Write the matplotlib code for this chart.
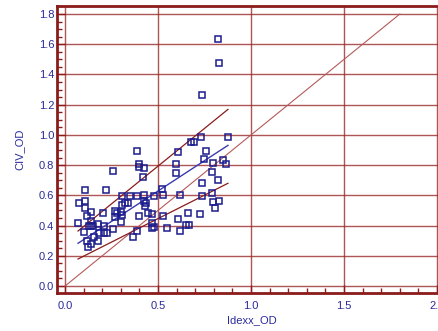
import matplotlib
matplotlib.use("Agg")
import matplotlib.pyplot as plt
import numpy as np
from matplotlib.ticker import MultipleLocator

# Idexx_OD vs CIV_OD
idexx = [0.070, 0.077, 0.101, 0.109, 0.109, 0.109, 0.117, 0.118, 0.125, 0.127,
         0.138, 0.138, 0.141, 0.141, 0.152, 0.158, 0.177, 0.176, 0.181, 0.206,
         0.208, 0.219, 0.208, 0.227, 0.260, 0.260, 0.267, 0.270, 0.281, 0.299,
         0.299, 0.306, 0.308, 0.308, 0.324, 0.339, 0.349, 0.366, 0.387, 0.389,
         0.398, 0.387, 0.398, 0.399, 0.425, 0.419, 0.425, 0.430, 0.426, 0.435,
         0.446, 0.466, 0.469, 0.477, 0.468, 0.477, 0.519, 0.528, 0.528, 0.547,
         0.597, 0.597, 0.610, 0.618, 0.618, 0.651, 0.666, 0.660, 0.727, 0.738,
         0.738, 0.788, 0.789, 0.797, 0.808, 0.825, 0.828, 0.797, 0.824, 0.830,
         0.737, 0.609, 0.677, 0.694, 0.730, 0.756, 0.747, 0.876, 0.848, 0.866]
civ = [0.415, 0.547, 0.359, 0.635, 0.565, 0.518, 0.465, 0.298, 0.256, 0.395,
       0.488, 0.430, 0.395, 0.276, 0.395, 0.326, 0.408, 0.298, 0.349, 0.485,
       0.395, 0.635, 0.349, 0.349, 0.763, 0.377, 0.496, 0.459, 0.481, 0.488,
       0.426, 0.596, 0.534, 0.470, 0.551, 0.551, 0.596, 0.326, 0.596, 0.364,
       0.465, 0.893, 0.809, 0.791, 0.783, 0.723, 0.604, 0.527, 0.563, 0.547,
       0.485, 0.475, 0.419, 0.392, 0.382, 0.596, 0.642, 0.604, 0.465, 0.382,
       0.807, 0.745, 0.442, 0.604, 0.364, 0.404, 0.404, 0.485, 0.475, 0.685,
       0.594, 0.753, 0.617, 0.553, 0.515, 0.702, 0.566, 0.813, 1.633, 1.474,
       1.262, 0.885, 0.955, 0.953, 0.984, 0.892, 0.842, 0.984, 0.832, 0.807]

# recta de regresion y bandas
fit_x = [0.070, 0.876]
fit_y = [0.283, 0.931]
upper_y = [0.364, 1.169]
lower_y = [0.179, 0.680]
ident = [0.0, 1.8]

rojo = "#8a1c1c"
azul = "#2a2a9a"

fig = plt.figure(figsize=(4.39, 3.31), dpi=100)
ax = fig.add_axes([57 / 439, 38 / 331, 389 / 439, 287 / 331])

ax.set_xlim(-0.043, 2.048)
ax.set_ylim(-0.046, 1.853)

ax.xaxis.set_major_locator(MultipleLocator(0.5))
ax.xaxis.set_minor_locator(MultipleLocator(0.1))
ax.yaxis.set_major_locator(MultipleLocator(0.2))
ax.yaxis.set_minor_locator(MultipleLocator(0.05))
ax.grid(True, which="major", color="#9a2a2a", lw=1.0, alpha=0.8)
ax.set_axisbelow(True)

ax.plot(ident, ident, color="#b55a5a", lw=0.8)
ax.plot(fit_x, upper_y, color=rojo, lw=0.9)
ax.plot(fit_x, lower_y, color=rojo, lw=0.9)
ax.plot(fit_x, fit_y, color="#3a3ab5", lw=1.0)
ax.plot(idexx, civ, ls="none", marker="s", ms=4.0, mfc="none", mec="#1c1c8c", mew=1.1)

for s in ["left", "bottom", "top"]:
    ax.spines[s].set_color(rojo)
    ax.spines[s].set_linewidth(2)
ax.spines["right"].set_visible(False)

ax.tick_params(which="both", direction="in", color=rojo, labelcolor=azul, labelsize=8)
ax.tick_params(which="major", length=6, width=1)
ax.tick_params(which="minor", length=3.5, width=1)
ax.tick_params(axis="x", pad=6)
ax.tick_params(axis="y", pad=2)
ax.set_yticks(np.arange(0, 1.81, 0.2))
ax.set_yticklabels([f"{v:.1f}" for v in np.arange(0, 1.81, 0.2)])
ax.set_xticks([0, 0.5, 1.0, 1.5, 2.0])
ax.set_xticklabels(["0.0", "0.5", "1.0", "1.5", "2.0"])
for lab in ax.get_xticklabels() + ax.get_yticklabels():
    lab.set_family("Liberation Sans")

ax.set_xlabel("Idexx_OD", color=azul, fontsize=8, family="Liberation Sans", labelpad=3)
ax.set_ylabel("CIV_OD", color=azul, fontsize=8, family="Liberation Sans", labelpad=10)

fig.savefig("out.png", dpi=100)
